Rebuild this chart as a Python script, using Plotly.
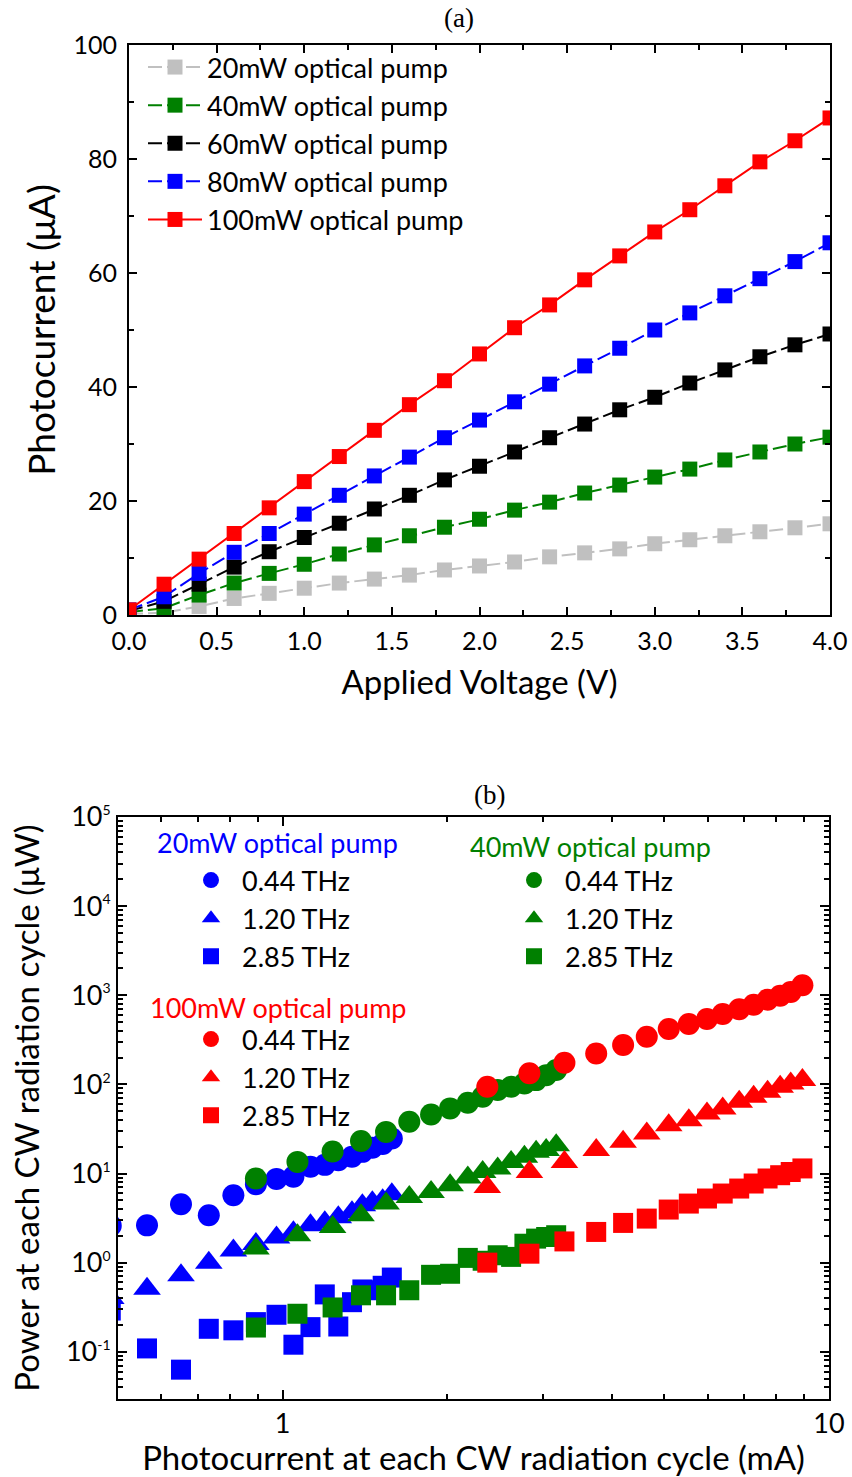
import plotly.graph_objects as go

W, H = 852, 1477

# ---------------- Panel (a) data ----------------
voltage = [0.0, 0.2, 0.4, 0.6, 0.8, 1.0, 1.2, 1.4, 1.6, 1.8, 2.0,
           2.2, 2.4, 2.6, 2.8, 3.0, 3.2, 3.4, 3.6, 3.8, 4.0]
i_20mw = [0.2, 0.4, 1.5, 2.9, 3.8, 4.7, 5.6, 6.3, 7.0, 7.9, 8.6,
          9.3, 10.2, 10.9, 11.6, 12.5, 13.2, 13.9, 14.6, 15.3, 16.0]
i_40mw = [0.5, 1.2, 3.5, 5.6, 7.3, 8.9, 10.7, 12.3, 13.9, 15.4, 16.8,
          18.4, 19.8, 21.4, 22.8, 24.2, 25.6, 27.2, 28.6, 30.0, 31.2]
i_60mw = [0.7, 2.4, 5.4, 8.4, 11.1, 13.6, 16.1, 18.6, 21.0, 23.7, 26.1,
          28.6, 31.1, 33.5, 36.0, 38.2, 40.7, 43.0, 45.3, 47.4, 49.3]
i_80mw = [0.9, 3.2, 7.3, 11.0, 14.3, 17.7, 21.0, 24.4, 27.7, 31.1, 34.2,
          37.4, 40.5, 43.7, 46.8, 50.0, 53.0, 56.0, 59.0, 62.0, 65.3]
i_100mw = [0.9, 5.4, 9.8, 14.3, 18.8, 23.4, 27.8, 32.4, 36.9, 41.1, 45.8,
           50.4, 54.4, 58.8, 63.0, 67.2, 71.1, 75.3, 79.5, 83.2, 87.2]

# ---------------- Panel (b) data ----------------
# 20 mW optical pump (blue)
cur_20mw = [0.485, 0.565, 0.652, 0.733, 0.813, 0.894, 0.975, 1.047, 1.125,
            1.195, 1.265, 1.34, 1.40, 1.46, 1.525, 1.585]
p20_044 = [2.6, 2.62, 4.52, 3.40, 5.70, 7.6, 8.7, 9.2, 11.9,
           12.5, 14.1, 15.4, 17.5, 19.5, 21.5, 24.7]
p20_120 = [0.40, 0.51, 0.72, 1.00, 1.37, 1.62, 1.92, 2.19, 2.62,
           2.84, 3.23, 3.67, 4.40, 4.76, 5.01, 5.85]
p20_285 = [0.29, 0.109, 0.063, 0.181, 0.174, 0.215, 0.26, 0.12, 0.189,
           0.44, 0.192, 0.36, 0.50, 0.49, 0.55, 0.68]

# 40 mW optical pump (green)
cur_40mw = [0.894, 1.065, 1.235, 1.392, 1.547, 1.706, 1.870, 2.026, 2.183,
            2.324, 2.476, 2.620, 2.771, 2.911, 3.037, 3.168]
p40_044 = [8.8, 13.5, 17.7, 23.2, 29.3, 38.0, 46.0, 53.8, 62.1,
           72.6, 86.3, 94.0, 102.6, 111.7, 127.0, 145.0]
p40_120 = [1.44, 2.03, 2.51, 3.40, 4.60, 5.46, 6.21, 7.39, 9.0,
           10.4, 11.4, 13.5, 15.4, 17.5, 18.3, 20.8]
p40_285 = [0.187, 0.267, 0.314, 0.43, 0.43, 0.49, 0.73, 0.75, 1.13,
           1.05, 1.21, 1.16, 1.63, 1.86, 1.94, 2.03]

# 100 mW optical pump (red)
cur_100mw = [2.37, 2.83, 3.28, 3.75, 4.20, 4.64, 5.09, 5.54, 5.98,
             6.39, 6.85, 7.28, 7.72, 8.14, 8.51, 8.94]
p100_044 = [94, 133, 175, 222, 276, 343, 418, 476, 542,
            617, 698, 782, 890, 987, 1089, 1292]
p100_120 = [7.07, 10.4, 13.5, 18.3, 22.7, 28.2, 34.9, 39.7, 47.2,
            53.8, 63.7, 72.6, 82.6, 94.0, 102.6, 111.7]
p100_285 = [1.0, 1.26, 1.73, 2.21, 2.79, 3.12, 3.94, 4.60, 5.24,
            5.96, 6.78, 7.72, 8.79, 9.57, 10.4, 11.4]

freq_labels = ["0.44 THz", "1.20 THz", "2.85 THz"]
y_tickvals_b = [0.1, 1, 10, 100, 1000, 10000, 100000]
y_exponents_b = ["-1", "0", "1", "2", "3", "4", "5"]
y_ticktext_b = ['10<sup><span style="font-size:14px">%s</span></sup>' % e for e in y_exponents_b]

# ---------------- helpers for layout positions ----------------
def px_x(p):
    return p / W

def px_y(p):
    return 1 - p / H

FONT = "Lato"
BLUE, GREEN, RED, BLACK, GRAY = "#0000ff", "#008000", "#ff0000", "#000000", "#c0c0c0"
DASH = "14px,5px"

fig = go.Figure()

# ---- panel (a) traces
series_a = [
    ("20mW optical pump", i_20mw, GRAY, DASH),
    ("40mW optical pump", i_40mw, GREEN, DASH),
    ("60mW optical pump", i_60mw, BLACK, DASH),
    ("80mW optical pump", i_80mw, BLUE, DASH),
    ("100mW optical pump", i_100mw, RED, "solid"),
]
for k, (name, vals, col, dash) in enumerate(series_a):
    fig.add_trace(go.Scatter(
        x=voltage, y=vals, name=name, mode="lines+markers",
        line=dict(color=col, width=2, dash=dash),
        marker=dict(symbol="square", size=15, color=col),
        xaxis="x", yaxis="y", legend="legend",
    ))

# ---- panel (b) traces (blue first, then green, then red on top)
symbols = ["circle", "triangle-up", "square"]
sizes = [22, 24, 20]
groups_b = [
    (cur_20mw, [p20_044, p20_120, p20_285], BLUE, "legend2"),
    (cur_40mw, [p40_044, p40_120, p40_285], GREEN, "legend4"),
    (cur_100mw, [p100_044, p100_120, p100_285], RED, "legend3"),
]
for xs, ys_list, col, leg in groups_b:
    for k, ys in enumerate(ys_list):
        fig.add_trace(go.Scatter(
            x=xs, y=ys, name=freq_labels[k], mode="markers",
            marker=dict(symbol=symbols[k], size=sizes[k], color=col),
            xaxis="x2", yaxis="y2", legend=leg,
        ))

axis_common = dict(
    showline=True, linecolor="black", linewidth=2, mirror="allticks",
    ticks="inside", tickcolor="black", tickwidth=2, showgrid=False, zeroline=False,
    automargin=False,
)
minor_common = dict(ticks="inside", ticklen=5, tickcolor="black", tickwidth=2, showgrid=False)
TICKFONT_A = dict(family=FONT, size=25, color="black")
TICKFONT_B = dict(family=FONT, size=27, color="black")

legend_common = dict(
    font=dict(family=FONT, size=27, color="black"),
    bgcolor="rgba(0,0,0,0)", borderwidth=0,
    traceorder="normal",
    xanchor="left", yanchor="top",
)

fig.update_layout(
    width=W, height=H,
    margin=dict(l=0, r=0, t=0, b=0, autoexpand=False),
    paper_bgcolor="white", plot_bgcolor="white",
    font=dict(family=FONT, color="black"),
    xaxis=dict(
        axis_common, domain=[px_x(129), px_x(830)], anchor="y",
        range=[0, 4], dtick=0.5, tick0=0, tickformat=".1f", ticklen=8, tickfont=TICKFONT_A,
        ticklabelstandoff=3,
        minor=dict(minor_common, dtick=0.25),
        title=dict(text="Applied Voltage (V)", font=dict(family=FONT, size=33), standoff=17),
    ),
    yaxis=dict(
        axis_common, domain=[px_y(615), px_y(45)], anchor="x",
        range=[0, 100], dtick=20, tick0=0, ticklen=8, tickfont=TICKFONT_A,
        ticklabelstandoff=5,
        minor=dict(minor_common, dtick=10),
        title=dict(text="Photocurrent (μA)", font=dict(family=FONT, size=37), standoff=7),
    ),
    xaxis2=dict(
        axis_common, domain=[px_x(118), px_x(829)], anchor="y2", type="log",
        range=[-0.30103, 1.0], tickvals=[1, 10], ticktext=["1", "10"], ticklen=9,
        tickfont=TICKFONT_B,
        minor=dict(minor_common, tickvals=[0.6, 0.7, 0.8, 0.9, 2, 3, 4, 5, 6, 7, 8, 9]),
        title=dict(text="Photocurrent at each CW radiation cycle (mA)",
                   font=dict(family=FONT, size=33), standoff=8),
    ),
    yaxis2=dict(
        axis_common, domain=[px_y(1399), px_y(817)], anchor="x2", type="log",
        range=[-1.53, 5.0], tickvals=y_tickvals_b, ticktext=y_ticktext_b, ticklen=9,
        tickfont=TICKFONT_B,
        minor=dict(minor_common,
                   tickvals=[m * 10 ** e for e in range(-2, 5) for m in range(2, 10)]),
        title=dict(text="Power at each CW radiation cycle (μW)",
                   font=dict(family=FONT, size=33), standoff=16),
    ),
    legend=dict(legend_common, x=px_x(143), y=px_y(43), itemwidth=54),
    legend2=dict(legend_common, x=px_x(180), y=px_y(856), itemwidth=52),
    legend3=dict(legend_common, x=px_x(180), y=px_y(1015), itemwidth=52),
    legend4=dict(legend_common, x=px_x(503), y=px_y(856), itemwidth=52),
    showlegend=True,
)

annotations = [
    dict(text="(a)", x=px_x(459), y=px_y(18), font=dict(family="Liberation Serif", size=27)),
    dict(text="(b)", x=px_x(489), y=px_y(795), font=dict(family="Liberation Serif", size=27)),
    dict(text="20mW optical pump", x=px_x(155), y=px_y(842), xanchor="left",
         font=dict(family=FONT, size=27, color=BLUE)),
    dict(text="100mW optical pump", x=px_x(148), y=px_y(1007), xanchor="left",
         font=dict(family=FONT, size=27, color=RED)),
    dict(text="40mW optical pump", x=px_x(468), y=px_y(846), xanchor="left",
         font=dict(family=FONT, size=27, color=GREEN)),
]
for a in annotations:
    a.setdefault("xanchor", "center")
    a.update(xref="paper", yref="paper", yanchor="middle", showarrow=False)
fig.update_layout(annotations=annotations)

fig.write_html("out.html")
